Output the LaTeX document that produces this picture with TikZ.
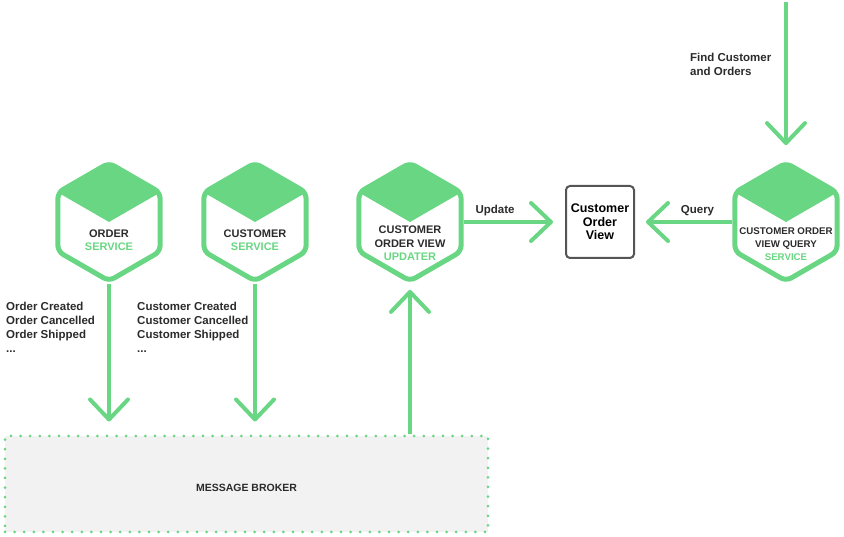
\documentclass[tikz,border=0pt]{standalone}
\usepackage{fontspec}
\setmainfont{Liberation Sans}
\usetikzlibrary{arrows.meta,shapes.geometric}

\definecolor{svcgreen}{HTML}{68D682}
\definecolor{ink}{HTML}{2B2B2B}
\definecolor{brokerfill}{HTML}{F2F2F2}
\definecolor{boxline}{HTML}{555555}

\tikzset{
  hexagon/.style={regular polygon, regular polygon sides=6, shape border rotate=30,
    minimum size=118pt, inner sep=0pt, draw=svcgreen, line width=5pt, rounded corners=6pt},
  hextext/.style={align=center, inner sep=0pt, text=ink, font=\fontsize{11}{13}\selectfont\bfseries},
  flow/.style={draw=svcgreen, line width=4pt,
    -{Straight Barb[length=20pt,width=38pt,round]}},
  evtext/.style={align=left, inner sep=0pt, text=ink, font=\fontsize{11.5}{14}\selectfont\bfseries},
  viewbox/.style={draw=boxline, line width=2pt, rounded corners=4pt, minimum width=68pt,
    minimum height=72pt, inner sep=0pt, align=center, text=black,
    font=\fontsize{12.5}{13.5}\selectfont\bfseries},
  broker/.style={fill=brokerfill, draw=svcgreen, line width=3pt, line cap=round,
    dash pattern=on 0pt off 9.6pt, minimum width=483pt, minimum height=96pt,
    inner sep=0pt},
  brokertext/.style={inner sep=0pt, text=ink, font=\fontsize{10.5}{12}\selectfont\bfseries}
}

% service hexagon with its top face filled
\newcommand\servicehex[2]{%
  \node[hexagon] (#1) at (#2) {};
  \fill[svcgreen] (#1.center) -- ++(150:59) -- ++(30:59) -- ++(-30:59) -- cycle;
}

\begin{document}
\begin{tikzpicture}[x=1pt,y=1pt]
\useasboundingbox (0,0) rectangle (844,537);

% services
\servicehex{order}{109,315}
\servicehex{customer}{255,315}
\servicehex{updater}{410,315}
\servicehex{query}{786,315}

\node[hextext] (order-text) at ([yshift=-18.5pt]order.center)
  {ORDER\\\textcolor{svcgreen}{SERVICE}};
\node[hextext] (customer-text) at ([yshift=-18.5pt]customer.center)
  {CUSTOMER\\\textcolor{svcgreen}{SERVICE}};
\node[hextext, font=\fontsize{11}{13.5}\selectfont\bfseries] (updater-text)
  at ([yshift=-21.5pt]updater.center)
  {CUSTOMER\\ORDER VIEW\\\textcolor{svcgreen}{UPDATER}};
\node[hextext, font=\fontsize{9.7}{13}\selectfont\bfseries] (query-text)
  at ([yshift=-22pt]query.center)
  {CUSTOMER ORDER\\VIEW QUERY\\\textcolor{svcgreen}{SERVICE}};

% materialized view
\node[viewbox] (view) at (600,315) {Customer\\Order\\View};

% message broker
\node[broker] (broker) at (246.5,53) {};
\node[brokertext] (broker-label) at (246.5,49) {MESSAGE BROKER};

% event lists
\node[evtext, anchor=north west] (order-events) at (6,235)
  {Order Created\\Order Cancelled\\Order Shipped\\...};
\node[evtext, anchor=north west] (customer-events) at (137,235)
  {Customer Created\\Customer Cancelled\\Customer Shipped\\...};

% query entry
\coordinate (find-start) at (786,535);
\node[evtext, anchor=north west] (find-label) at (690,484) {Find Customer\\and Orders};

% connectors
\draw[flow, shorten >=13pt] (order) -- (order |- broker.north);
\draw[flow, shorten >=13pt] (customer) -- (customer |- broker.north);
\draw[flow, shorten >=6pt] (broker.north -| updater) -- (updater);
\draw[flow, shorten >=12pt] (updater) -- (view);
\draw[flow, shorten >=11pt] (query) -- (view);
\draw[flow, shorten >=15pt] (find-start) -- (query);

\node[evtext, anchor=base] (update-label) at (495,323) {Update};
\node[evtext, anchor=base] (query-label) at (697.5,323) {Query};
\end{tikzpicture}
\end{document}
